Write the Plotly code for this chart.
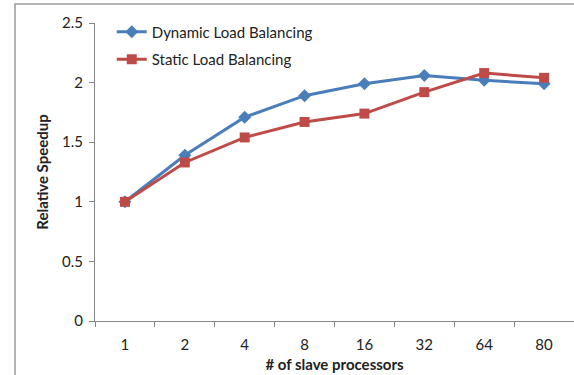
import plotly.graph_objects as go

categories = ["1", "2", "4", "8", "16", "32", "64", "80"]
dynamic = [1.0, 1.39, 1.71, 1.89, 1.99, 2.06, 2.02, 1.99]
static = [1.0, 1.33, 1.54, 1.67, 1.74, 1.92, 2.08, 2.04]
y_ticks = [0, 0.5, 1, 1.5, 2, 2.5]
y_ticklabels = ["0", "0.5", "1", "1.5", "2", "2.5"]

blue = "#4A7EBB"
red = "#BE4B48"
font = "Lato, 'Open Sans', sans-serif"

fig = go.Figure()
fig.add_trace(go.Scatter(x=categories, y=dynamic, mode="lines+markers", name="Dynamic Load Balancing",
                         legendgroup="a",
                         line=dict(color=blue, width=3), marker=dict(symbol="diamond", size=10, color=blue)))
fig.add_trace(go.Scatter(x=categories, y=static, mode="lines+markers", name="Static Load Balancing",
                         legendgroup="b",
                         line=dict(color=red, width=3), marker=dict(symbol="square", size=10, color=red)))

fig.update_layout(
    width=574, height=375,
    margin=dict(l=95, r=0, t=23, b=54),
    paper_bgcolor="white", plot_bgcolor="white",
    font=dict(family=font, size=15, color="#222"),
    showlegend=True,
    legend=dict(x=0.035, y=1.025, xanchor="left", yanchor="top", bgcolor="rgba(0,0,0,0)",
                font=dict(size=15), tracegroupgap=5, itemwidth=30),
    xaxis=dict(type="category", range=[-0.5, 7.5], showgrid=False, showline=True, linecolor="#868686",
               linewidth=1, ticks="outside", tickson="boundaries", ticklen=5, tickcolor="#868686",
               tickfont=dict(size=15), zeroline=False, ticklabelstandoff=10,
               title=dict(text="<b># of slave processors</b>", font=dict(size=15), standoff=7)),
    yaxis=dict(range=[0, 2.5], tickvals=y_ticks, ticktext=y_ticklabels, showgrid=False, showline=True,
               linecolor="#868686", linewidth=1, ticks="outside", ticklen=5, tickcolor="#868686",
               tickfont=dict(size=15), zeroline=False, ticklabelstandoff=3,
               title=dict(text="<b>Relative Speedup</b>", font=dict(size=15), standoff=9)),
)
fig.add_shape(type="rect", xref="paper", yref="paper", x0=(15 - 95) / 479, x1=1.05,
              y0=-0.3, y1=(321 - 4) / 298, line=dict(color="#9a9a9a", width=1.5), layer="below")

fig.write_html("out.html")
